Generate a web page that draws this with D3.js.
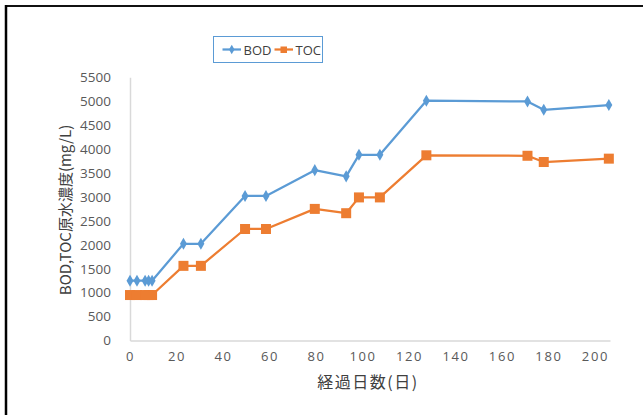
<!DOCTYPE html>
<html>
<head>
<meta charset="utf-8">
<script src="https://cdn.jsdelivr.net/npm/d3@7"></script>
<style>
  html, body { margin: 0; padding: 0; background: #fff; }
  svg { display: block; font-family: "Open Sans", "Noto Sans CJK JP", sans-serif; }
</style>
</head>
<body>
<svg id="chart" width="643" height="415"></svg>
<script>
// Elapsed days for each sample
const days = [0, 3, 6.5, 8, 9.5, 23, 30.5, 49.5, 58.5, 79.5, 93, 98.5, 107.5, 127.5, 171, 178, 206];
// Raw-water BOD (mg/L)
const bod = [1250, 1250, 1250, 1250, 1250, 2020, 2020, 3020, 3020, 3560, 3430, 3880, 3880, 5010, 4995, 4820, 4920];
// Raw-water TOC (mg/L)
const toc = [950, 950, 950, 950, 950, 1560, 1560, 2330, 2330, 2750, 2660, 2990, 2990, 3870, 3860, 3730, 3800];
const xTicks = [0, 20, 40, 60, 80, 100, 120, 140, 160, 180, 200];
const yTicks = [0, 500, 1000, 1500, 2000, 2500, 3000, 3500, 4000, 4500, 5000, 5500];
const seriesNames = ["BOD", "TOC"];
const seriesColors = ["#5B9BD5", "#ED7D31"];

const svg = d3.select("#chart");

// Outer frame (left and top edges)
svg.append("line").attr("x1", 6).attr("y1", 6).attr("x2", 643).attr("y2", 6)
  .attr("stroke", "#111").attr("stroke-width", 2);
svg.append("line").attr("x1", 6).attr("y1", 5).attr("x2", 6).attr("y2", 415)
  .attr("stroke", "#000").attr("stroke-width", 2.5);

const x = d3.scaleLinear().domain([0, 206.5]).range([130, 610]);
const y = d3.scaleLinear().domain([0, 5500]).range([340.5, 77.3]);

// Axes
const xAxis = d3.axisBottom(x).tickValues(xTicks).tickFormat(d3.format("d"))
  .tickSize(0).tickPadding(11);
const gx = svg.append("g").attr("transform", `translate(0,${y(0)})`).call(xAxis);
gx.select(".domain").attr("stroke", "#d9d9d9").attr("stroke-width", 1.5);
gx.selectAll("text").attr("fill", "#595959").attr("font-size", 13)
  .attr("letter-spacing", "1.6px").attr("font-family", "Open Sans");

const yAxis = d3.axisLeft(y).tickValues(yTicks).tickFormat(d3.format("d"))
  .tickSize(0).tickPadding(19);
const gy = svg.append("g").attr("transform", `translate(${x(0)},0)`).call(yAxis);
gy.select(".domain").attr("stroke", "#d9d9d9").attr("stroke-width", 1.5);
gy.selectAll("text").attr("fill", "#595959").attr("font-size", 13.5)
  .attr("font-family", "Open Sans");

// Axis titles
svg.append("text")
  .attr("x", 368).attr("y", 388)
  .attr("text-anchor", "middle")
  .attr("font-size", 16).attr("letter-spacing", "1.5px")
  .attr("fill", "#404040")
  .attr("font-family", "Noto Sans CJK JP")
  .text("経過日数(日)");

svg.append("text")
  .attr("transform", "translate(71,210) rotate(-90)")
  .attr("text-anchor", "middle")
  .attr("font-size", 15)
  .attr("fill", "#404040")
  .attr("font-family", "Noto Sans CJK JP")
  .text("BOD,TOC原水濃度(mg/L)");

// Series
const series = [bod, toc];
const line = d3.line().x((d, i) => x(days[i])).y(d => y(d));
const diamond = d3.symbol().type(d3.symbolDiamond).size(42);
const smallDiamond = d3.symbol().type(d3.symbolDiamond).size(26);

series.forEach((vals, s) => {
  const g = svg.append("g");
  g.append("path").datum(vals)
    .attr("d", line)
    .attr("fill", "none")
    .attr("stroke", seriesColors[s])
    .attr("stroke-width", 2.25)
    .attr("stroke-linejoin", "round");
  if (s === 0) {
    g.selectAll("path.m").data(vals).join("path")
      .attr("class", "m")
      .attr("transform", (d, i) => `translate(${x(days[i])},${y(d)})`)
      .attr("d", diamond)
      .attr("fill", seriesColors[s]);
  } else {
    g.selectAll("rect.m").data(vals).join("rect")
      .attr("class", "m")
      .attr("x", (d, i) => x(days[i]) - 5)
      .attr("y", d => y(d) - 5)
      .attr("width", 10).attr("height", 10)
      .attr("fill", seriesColors[s]);
  }
});

// Legend
const lg = svg.append("g");
lg.append("rect").attr("x", 213.5).attr("y", 36.5).attr("width", 109).attr("height", 26)
  .attr("fill", "#fff").attr("stroke", "#5B9BD5").attr("stroke-width", 1);
const legendX = [222.5, 274.5];
seriesNames.forEach((name, s) => {
  const lx = legendX[s];
  lg.append("line").attr("x1", lx).attr("x2", lx + 18.5).attr("y1", 49.5).attr("y2", 49.5)
    .attr("stroke", seriesColors[s]).attr("stroke-width", 2.25);
  if (s === 0) {
    lg.append("path").attr("transform", `translate(${lx + 9.25},49.5)`)
      .attr("d", smallDiamond).attr("fill", seriesColors[s]);
  } else {
    lg.append("rect").attr("x", lx + 6).attr("y", 46.5).attr("width", 6.5).attr("height", 6.5)
      .attr("fill", seriesColors[s]);
  }
  lg.append("text").attr("x", lx + 21).attr("y", 54.5)
    .attr("font-size", 13).attr("fill", "#404040")
    .attr("font-family", "Liberation Sans Narrow, Open Sans")
    .text(name);
});
</script>
</body>
</html>
